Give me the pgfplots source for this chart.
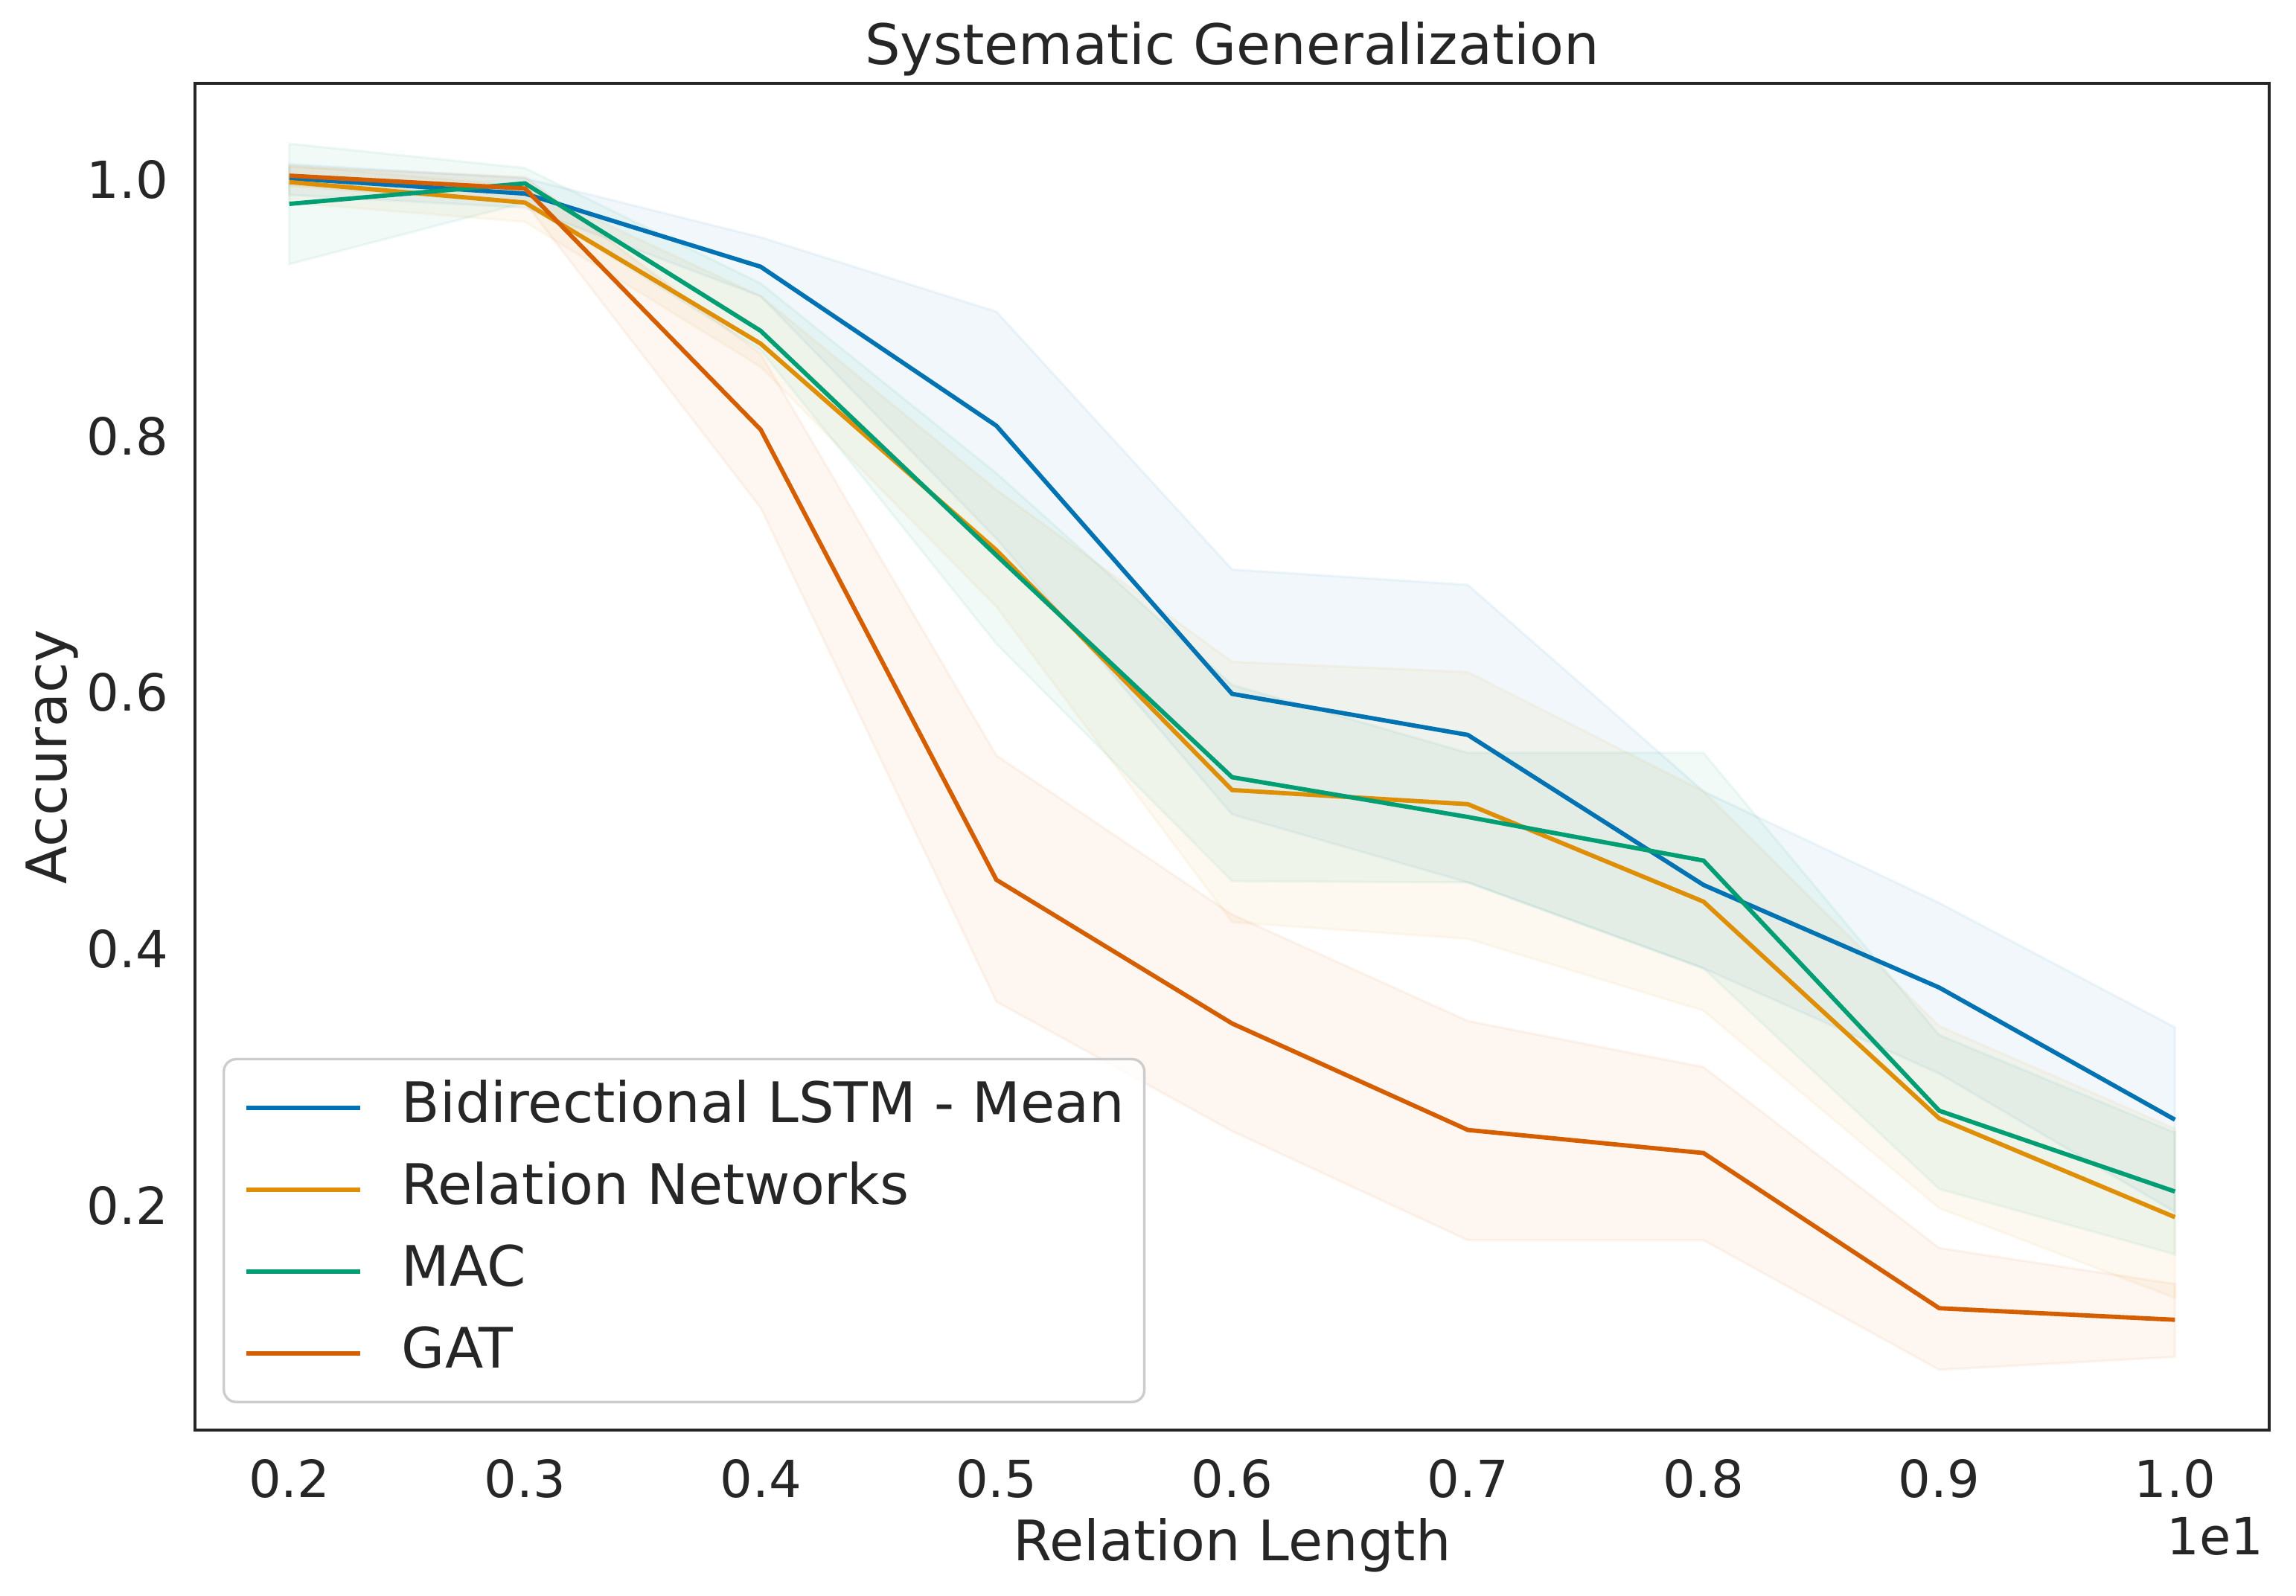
\documentclass[border=0pt]{standalone}
\usepackage{fontspec}
\setmainfont{DejaVu Sans}
\usepackage{pgfplots}
\usepackage{pgfplotstable}
\pgfplotsset{compat=1.18}
\usepgfplotslibrary{fillbetween}

\definecolor{cLSTM}{HTML}{0173B2}
\definecolor{cRN}{HTML}{DE8F05}
\definecolor{cMAC}{HTML}{029E73}
\definecolor{cGAT}{HTML}{D55E00}
\definecolor{txt}{HTML}{262626}
\definecolor{legedge}{HTML}{CCCCCC}

% relation length, mean accuracy, lower and upper bound of the confidence band
\pgfplotstableread{
x  m     lo    hi
2  1.001 0.988 1.012
3  0.989 0.978 1.001
4  0.932 0.909 0.955
5  0.808 0.720 0.897
6  0.599 0.505 0.696
7  0.567 0.452 0.684
8  0.450 0.385 0.523
9  0.370 0.303 0.436
10 0.267 0.195 0.339
}\lstm
\pgfplotstableread{
x  m     lo    hi
2  0.998 0.982 1.011
3  0.982 0.967 0.995
4  0.872 0.854 0.909
5  0.711 0.667 0.758
6  0.524 0.421 0.624
7  0.513 0.408 0.616
8  0.437 0.352 0.523
9  0.268 0.198 0.340
10 0.191 0.128 0.260
}\rn
\pgfplotstableread{
x  m     lo    hi
2  0.981 0.934 1.028
3  0.997 0.982 1.009
4  0.882 0.867 0.919
5  0.707 0.638 0.771
6  0.534 0.453 0.606
7  0.503 0.452 0.553
8  0.469 0.385 0.553
9  0.274 0.213 0.333
10 0.211 0.162 0.257
}\mac
\pgfplotstableread{
x  m     lo    hi
2  1.003 0.995 1.010
3  0.993 0.982 1.002
4  0.805 0.744 0.864
5  0.454 0.359 0.551
6  0.342 0.258 0.427
7  0.259 0.173 0.344
8  0.241 0.173 0.308
9  0.120 0.072 0.167
10 0.111 0.082 0.139
}\gat

\newcommand{\band}[3]{%
  \addplot[draw=none, forget plot, name path=#2hi] table[x=x,y=hi]{#1};
  \addplot[draw=none, forget plot, name path=#2lo] table[x=x,y=lo]{#1};
  \addplot[fill=#3, fill opacity=0.055, draw=#3, draw opacity=0.06, line width=0.8pt, forget plot]
    fill between[of=#2hi and #2lo];
}

\begin{document}
\begin{tikzpicture}
\begin{axis}[
  at={(0pt,0pt)}, anchor=south west,
  scale only axis,
  width=668.88pt, height=434.4pt,
  xmin=1.6, xmax=10.4,
  ymin=0.025, ymax=1.075,
  clip mode=individual,
  xtick={2,3,4,5,6,7,8,9,10},
  xticklabels={0.2,0.3,0.4,0.5,0.6,0.7,0.8,0.9,1.0},
  ytick={0.2,0.4,0.6,0.8,1.0},
  yticklabels={0.2,0.4,0.6,0.8,1.0},
  major tick length=0pt,
  axis line style={draw=txt, line width=1pt},
  xticklabel style={font=\fontsize{16.5}{19}\selectfont, text=txt, anchor=north, inner sep=0pt, text height=12pt, yshift=-9.6pt},
  yticklabel style={font=\fontsize{16.5}{19}\selectfont, text=txt, anchor=east, inner sep=0pt, xshift=-8.4pt},
  title={Systematic Generalization},
  every axis title/.style={at={(axis description cs:0.5,1)}, anchor=base, yshift=6.1pt, font=\fontsize{18}{21}\selectfont, text=txt, inner sep=0pt},
  xlabel={Relation Length},
  ylabel={Accuracy},
  every axis x label/.style={at={(axis description cs:0.5,0)}, anchor=base, yshift=-42pt, font=\fontsize{18}{21}\selectfont, text=txt, inner sep=0pt},
  every axis y label/.style={at={(axis description cs:0,0.5)}, rotate=90, anchor=base, yshift=41.5pt, font=\fontsize{18}{21}\selectfont, text=txt, inner sep=0pt},
  legend cell align=left,
  legend image code/.code={\draw[line width=1.4pt] (0pt,0pt) -- (36.7pt,0pt);},
  legend style={at={(axis description cs:0.0133,0.0199)}, anchor=south west,
    draw=legedge, line width=0.8pt, fill=white, fill opacity=0.8, text opacity=1,
    rounded corners=4pt,
    font=\fontsize{18}{21}\selectfont, text=txt,
    inner xsep=6.5pt, inner ysep=7.2pt,
    row sep=9.4pt, column sep=12.8pt,
    nodes={inner sep=0pt, text height=13.2pt, text depth=3.8pt}},
]
\band{\lstm}{lstm}{cLSTM}
\band{\rn}{rn}{cRN}
\band{\mac}{mac}{cMAC}
\band{\gat}{gat}{cGAT}

\addplot[cLSTM, line width=1.4pt] table[x=x,y=m]{\lstm};
\addlegendentry{Bidirectional LSTM - Mean}
\addplot[cRN, line width=1.4pt] table[x=x,y=m]{\rn};
\addlegendentry{Relation Networks}
\addplot[cMAC, line width=1.4pt] table[x=x,y=m]{\mac};
\addlegendentry{MAC}
\addplot[cGAT, line width=1.4pt] table[x=x,y=m]{\gat};
\addlegendentry{GAT}

\node[anchor=base east, inner sep=0pt, font=\fontsize{16.5}{19}\selectfont, text=txt]
  at (rel axis cs:1,0) [xshift=-1.7pt, yshift=-40.3pt] {1e1};
\end{axis}
\pgfresetboundingbox
\path[use as bounding box] (-62.88pt,-53.28pt) rectangle (677.52pt,461.28pt);
\end{tikzpicture}
\end{document}
